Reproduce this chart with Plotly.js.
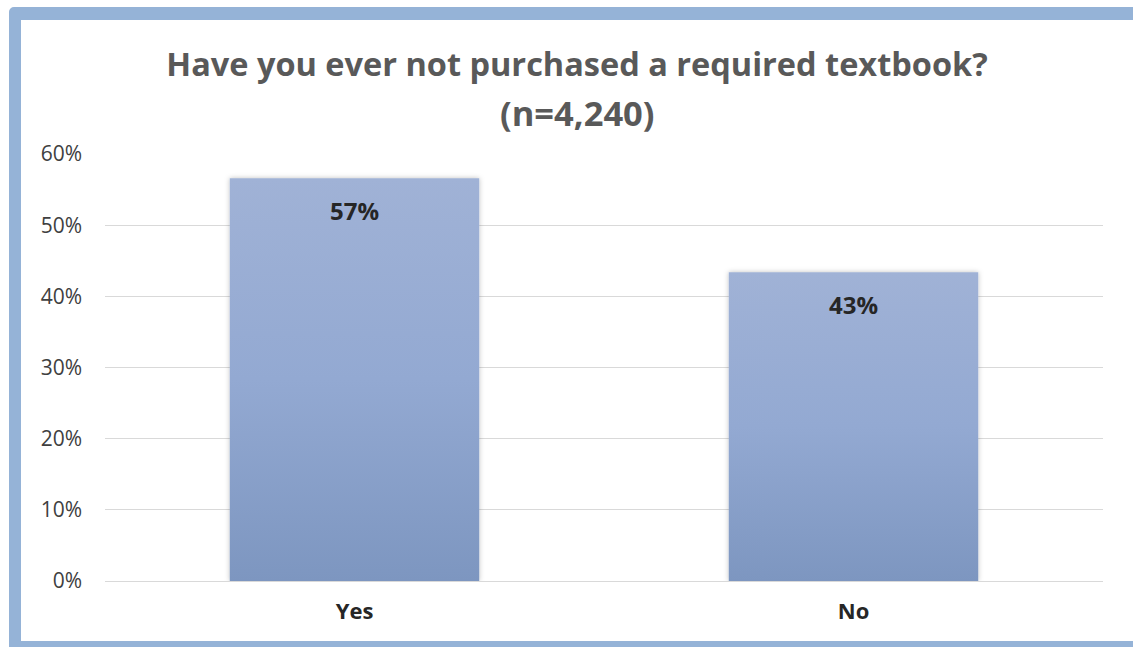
<!DOCTYPE html>
<html>
<head>
<meta charset="utf-8">
<script src="https://cdn.plot.ly/plotly-3.0.1.min.js"></script>
<style>
  html, body { margin: 0; padding: 0; background: #ffffff; overflow: hidden; }
  #chart { position: absolute; left: 0; top: 0; width: 1133px; height: 647px; }
  #frame { position: absolute; left: 9px; top: 7px; width: 1150px; height: 621px;
           border: 12px solid #95b3d7; border-top-width: 13px; border-radius: 5px; pointer-events: none; }
</style>
</head>
<body>
<div id="chart"></div>
<div id="frame"></div>
<script>
const categories = ["Yes", "No"];
const values = [56.6, 43.4];
const valueLabels = ["57%", "43%"];
const tickValues = [0, 10, 20, 30, 40, 50, 60];
const tickLabels = ["0%", "10%", "20%", "30%", "40%", "50%", "60%"];
const titleLine1 = "Have you ever not purchased a required textbook?";
const titleLine2 = "(n=4,240)";

const font = "Open Sans, Noto Sans, Liberation Sans, sans-serif";

const trace = {
  type: "bar",
  x: categories,
  y: values,
  width: 0.5,
  marker: { color: "#90a6cf", line: { width: 0 } },
  hoverinfo: "skip"
};

const valueAnnotations = categories.map(function (c, i) {
  return {
    text: "<b>" + valueLabels[i] + "</b>",
    x: c, y: values[i], xref: "x", yref: "y",
    xanchor: "center", yanchor: "middle", yshift: -32,
    showarrow: false,
    font: { family: font, size: 24, color: "#262626" }
  };
});

const layout = {
  width: 1133,
  height: 647,
  margin: { l: 104.5, r: 29.5, t: 154, b: 66, pad: 0 },
  paper_bgcolor: "#ffffff",
  plot_bgcolor: "#ffffff",
  showlegend: false,
  title: {
    text: "<b>" + titleLine1 + "</b>",
    font: { family: font, size: 32.5, color: "#595959" },
    x: 577 / 1133, xanchor: "center", xref: "container",
    y: 1 - 65 / 647, yanchor: "middle", yref: "container"
  },
  annotations: [{
    text: "<b>" + titleLine2 + "</b>",
    xref: "paper", yref: "paper",
    x: (577 - 104.5) / 999, xanchor: "center",
    y: (581 - 113) / 427, yanchor: "middle",
    showarrow: false,
    font: { family: font, size: 34.5, color: "#595959" }
  }].concat(valueAnnotations),
  xaxis: {
    type: "category",
    range: [-0.5, 1.5],
    showgrid: false,
    zeroline: false,
    showline: false,
    ticks: "",
    tickfont: { family: font, size: 22, color: "#262626", weight: "bold" },
    ticklabelstandoff: 15
  },
  yaxis: {
    range: [0, 60],
    tickvals: tickValues,
    ticktext: tickLabels,
    showgrid: true,
    gridcolor: "#d9d9d9",
    gridwidth: 1,
    zeroline: true,
    zerolinecolor: "#d9d9d9",
    zerolinewidth: 1,
    showline: false,
    ticks: "",
    ticklabelstandoff: 22,
    tickfont: { family: font, size: 21, color: "#404040" }
  },
  bargap: 0.5
};

Plotly.newPlot("chart", [trace], layout, { displayModeBar: false, staticPlot: true }).then(function (gd) {
  const svg = gd.querySelector("svg.main-svg");
  const ns = "http://www.w3.org/2000/svg";
  let defs = svg.querySelector("defs");
  if (!defs) { defs = document.createElementNS(ns, "defs"); svg.insertBefore(defs, svg.firstChild); }
  const grad = document.createElementNS(ns, "linearGradient");
  grad.setAttribute("id", "barGrad");
  grad.setAttribute("x1", "0"); grad.setAttribute("y1", "0");
  grad.setAttribute("x2", "0"); grad.setAttribute("y2", "1");
  [["0", "#a0b2d6"], ["0.5", "#93a9d2"], ["1", "#7d96c0"]].forEach(function (s) {
    const st = document.createElementNS(ns, "stop");
    st.setAttribute("offset", s[0]); st.setAttribute("stop-color", s[1]);
    grad.appendChild(st);
  });
  defs.appendChild(grad);
  const filt = document.createElementNS(ns, "filter");
  filt.setAttribute("id", "barShadow");
  filt.setAttribute("x", "-10%"); filt.setAttribute("y", "-10%");
  filt.setAttribute("width", "120%"); filt.setAttribute("height", "120%");
  const ds = document.createElementNS(ns, "feDropShadow");
  ds.setAttribute("dx", "0"); ds.setAttribute("dy", "0");
  ds.setAttribute("stdDeviation", "2.5"); ds.setAttribute("flood-color", "#000000");
  ds.setAttribute("flood-opacity", "0.25");
  filt.appendChild(ds);
  defs.appendChild(filt);
  gd.querySelectorAll(".barlayer .point path").forEach(function (p) {
    p.style.fill = "url(#barGrad)";
    p.setAttribute("filter", "url(#barShadow)");
  });
});
</script>
</body>
</html>
